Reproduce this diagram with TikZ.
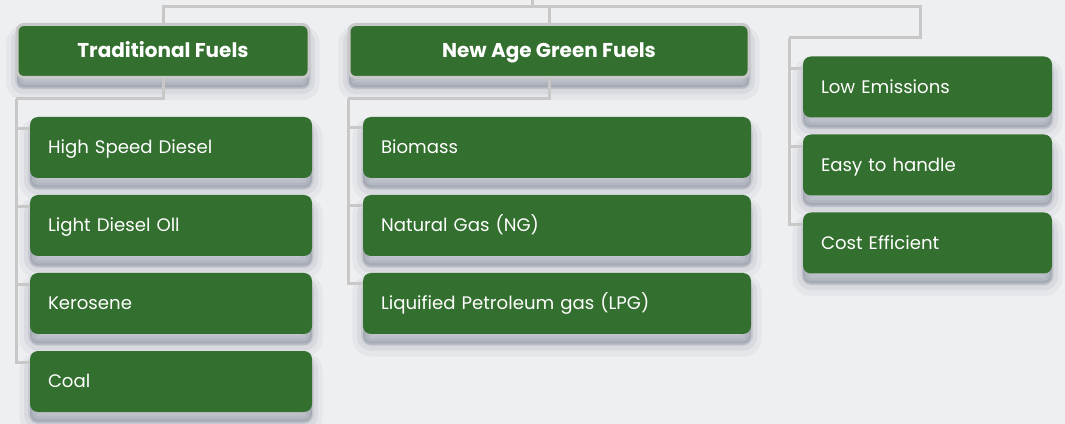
\documentclass[tikz,border=0pt]{standalone}
\usepackage{fontspec}
\setmainfont{Poppins}
\usepackage{xcolor}
\definecolor{leafgreen}{RGB}{51,111,46}
\definecolor{wirecol}{RGB}{200,200,201}
\definecolor{paper}{RGB}{238,239,241}
\definecolor{shade}{RGB}{60,70,95}

\begin{document}
\begin{tikzpicture}[x=0.75pt, y=0.75pt, node distance={58.5pt},
        shady/.style = {preaction={fill=shade, fill opacity=0.06, draw=shade, draw opacity=0.05, line width=16pt, transform canvas={yshift=-9pt}},
                        preaction={fill=shade, fill opacity=0.08, draw=shade, draw opacity=0.07, line width=9pt, transform canvas={yshift=-8pt}},
                        preaction={fill=shade, fill opacity=0.12, draw=shade, draw opacity=0.10, line width=3pt, transform canvas={yshift=-7pt}}},
        head/.style = {shady, fill=leafgreen, draw=wirecol, line width=2.25pt, rounded corners=5pt, minimum height=39.75pt, inner sep=0pt, text=white, text height=10.5pt, text depth=0pt, font=\bfseries\fontsize{15}{17}\selectfont},
        leaf/.style = {shady, fill=leafgreen, rounded corners=6pt, minimum height=45.75pt, inner xsep=13.5pt, inner ysep=0pt, text width=#1, align=left, text=white, text height=9.5pt, text depth=0pt, font=\fontsize{13.6}{15}\selectfont},
        link/.style = {draw=wirecol, line width=2.25pt}]
        \fill[paper] (0,0) rectangle (1065,-424);
        \useasboundingbox (0,0) rectangle (1065,-424);
        % headings
        \node[head, minimum width=219pt] (1) at (163,-51) {Traditional Fuels};
        \node[head, minimum width=300pt] (2) at (549,-51) {New Age Green Fuels};
        % traditional fuels
        \node[leaf=184.5pt] (3) at (171,-147.5) {High Speed Diesel};
        \node[leaf=184.5pt] (4) [below of=3] {Light Diesel Oll};
        \node[leaf=184.5pt] (5) [below of=4] {Kerosene};
        \node[leaf=184.5pt] (6) [below of=5] {Coal};
        % green fuels
        \node[leaf=264pt] (7) at (557,-147.5) {Biomass};
        \node[leaf=264pt] (8) [below of=7] {Natural Gas (NG)};
        \node[leaf=264pt] (9) [below of=8] {Liquified Petroleum gas (LPG)};
        % benefits
        \node[leaf=159.75pt] (10) at (927.5,-87) {Low Emissions};
        \node[leaf=159.75pt] (11) [below of=10] {Easy to handle};
        \node[leaf=159.75pt] (12) [below of=11] {Cost Efficient};
        % wires
        \coordinate (root) at (532,0);
        \coordinate (bus) at (532,-7);
        \coordinate (rc) at (920,-38);
        \coordinate (rs) at (789,-38);
        \coordinate (ts) at (16,-99);
        \coordinate (gs) at (348,-99);
        \draw[link] (root) -- (bus);
        \draw[link] (1.north) |- (bus) -| (2.north);
        \draw[link] (bus) -| (rc) -- (rs);
        \draw[link] (1.south) |- (ts);
        \draw[link] (2.south) |- (gs);
        \draw[link] (ts) |- ([yshift=-9pt]3.north west);
        \draw[link] (ts) |- ([yshift=-9pt]4.north west);
        \draw[link] (ts) |- ([yshift=-9pt]5.north west);
        \draw[link] (ts) |- ([yshift=-9pt]6.north west);
        \draw[link] (gs) |- ([yshift=-8pt]7.north west);
        \draw[link] (gs) |- ([yshift=-8pt]8.north west);
        \draw[link] (gs) |- ([yshift=-8pt]9.north west);
        \draw[link] (rs) |- ([yshift=-9pt]10.north west);
        \draw[link] (rs) |- ([yshift=-9pt]11.north west);
        \draw[link] (rs) |- ([yshift=-9pt]12.north west);
\end{tikzpicture}
\end{document}
